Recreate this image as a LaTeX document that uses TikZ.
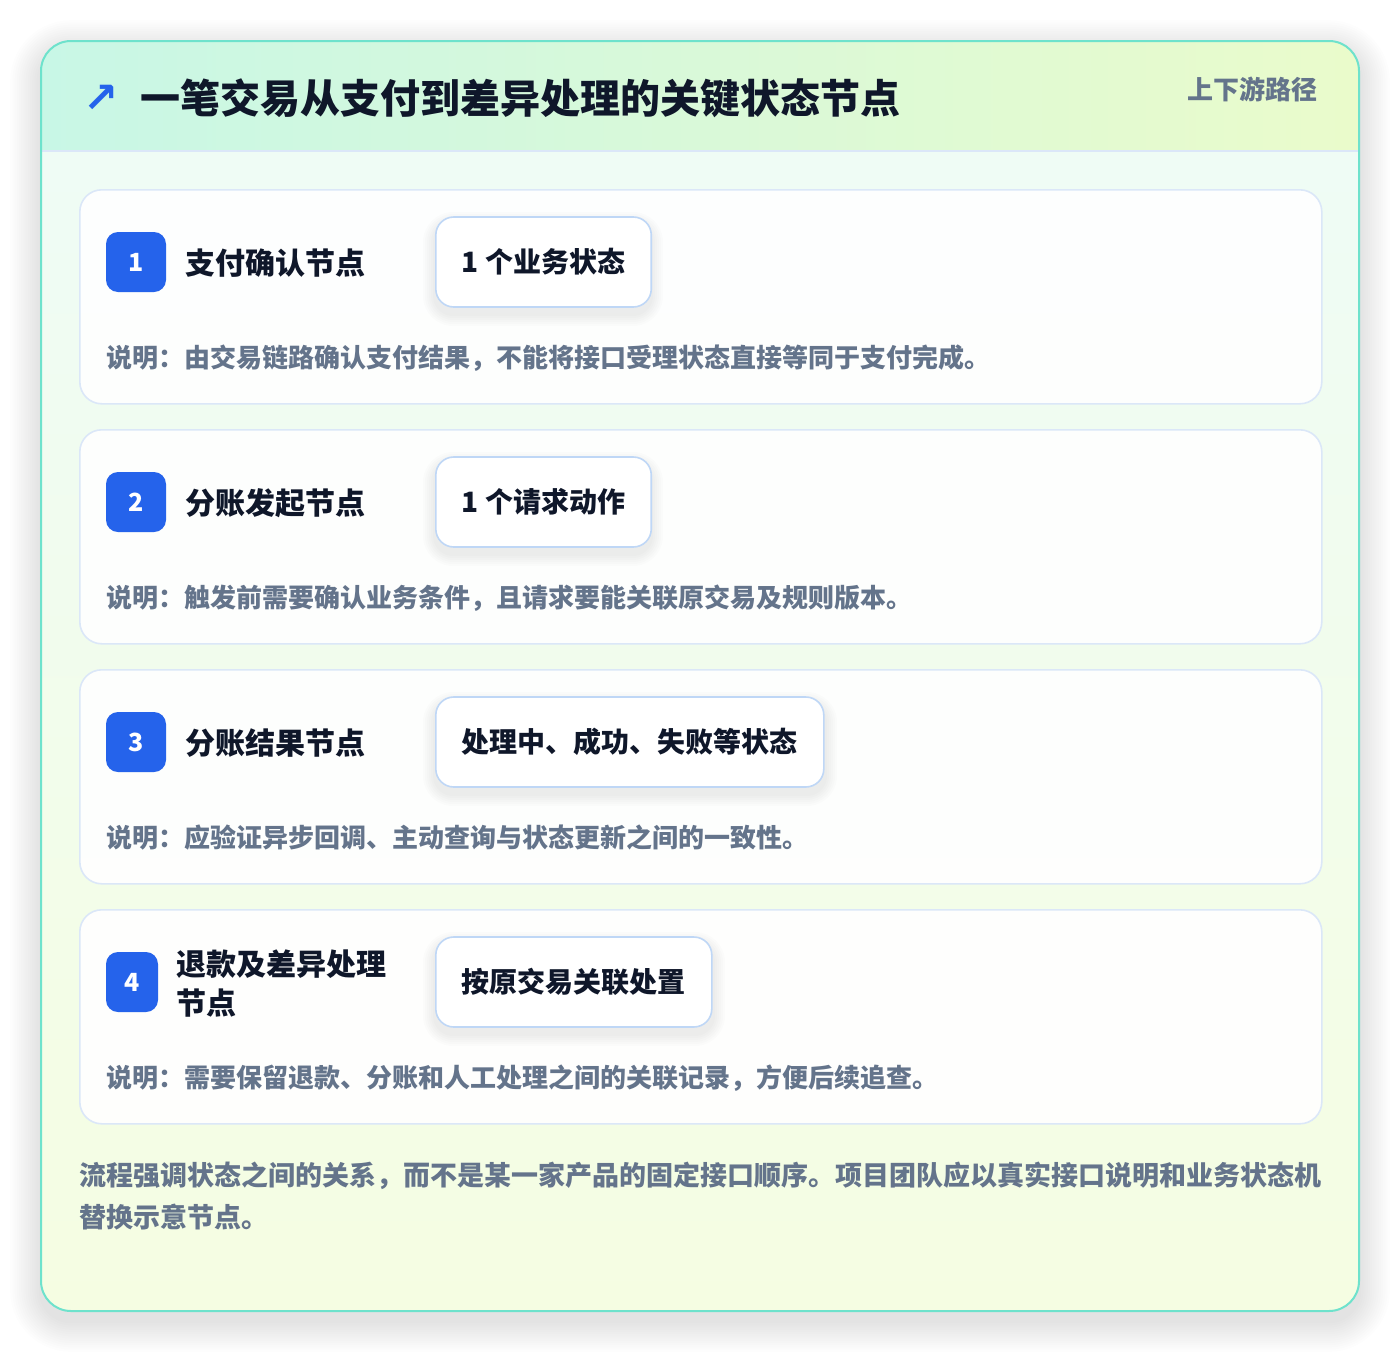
\documentclass[tikz,border=0pt]{standalone}
\usepackage{fontspec}
\setmainfont{Noto Sans CJK SC}
\newfontfamily\dejavu{DejaVu Sans}
\definecolor{panelborder}{HTML}{6EE2CC}
\definecolor{hdrL}{HTML}{C8F7E6}
\definecolor{hdrR}{HTML}{EAFBCB}
\definecolor{bodyT}{HTML}{EEFCF7}
\definecolor{bodyB}{HTML}{F5FDE2}
\definecolor{cardline}{HTML}{DBE7F8}
\definecolor{pillline}{HTML}{BFD7F6}
\definecolor{badgeblue}{HTML}{2563EB}
\definecolor{darktext}{HTML}{0F172A}
\definecolor{graytext}{HTML}{64748B}
\tikzset{
  card/.style={draw=cardline, line width=1.6pt, fill=white, fill opacity=0.92, text opacity=1, rounded corners=22pt, minimum width=1242pt, minimum height=214pt, anchor=north west, inner sep=0pt},
  badge/.style={fill=badgeblue, rounded corners=12pt, minimum width=60pt, minimum height=60pt, inner sep=0pt, text=white, font=\fontsize{25}{28}\selectfont\bfseries},
  cardtitle/.style={anchor=base west, inner sep=0pt, text=darktext, font=\fontsize{30}{39}\selectfont\bfseries},
  pill/.style={draw=pillline, line width=1.6pt, fill=white, rounded corners=18pt, minimum height=90pt, inner xsep=26pt, inner ysep=0pt, anchor=west, text=darktext, font=\fontsize{28}{32}\selectfont\bfseries},
  desc/.style={anchor=base west, inner sep=0pt, text=graytext, font=\fontsize{26}{30}\selectfont\bfseries},
  foot/.style={anchor=base west, inner sep=0pt, text=graytext, font=\fontsize{27}{42}\selectfont\bfseries},
  shadowlayer/.style={fill=black, fill opacity=#1},
}
% soft shadow helper: #1 x0, #2 y0, #3 x1, #4 y1, #5 radius, #6 yshift, #7 steps, #8 step size, #9 opacity
\newcommand{\softshadow}[9]{%
  \foreach \k in {1,...,#7}{%
    \pgfmathsetmacro{\dd}{\k*#8}%
    \fill[shadowlayer=#9, rounded corners=#5+\dd]
      (#1-\dd,#2-\dd+#6) rectangle (#3+\dd,#4+\dd+#6);
  }%
}
\begin{document}
\begin{tikzpicture}[x=1pt,y=-1pt]
\useasboundingbox (0,0) rectangle (1400,1352);
\fill[white] (0,0) rectangle (1400,1352);
% panel shadow
\softshadow{41}{41}{1359}{1311}{30}{10}{14}{2.2}{0.009}
% panel
\path[rounded corners=30pt, top color=bodyT, bottom color=bodyB]
  (41,41) rectangle (1359,1311);
\begin{scope}
  \clip[rounded corners=30pt] (41,41) rectangle (1359,1311);
  \fill[left color=hdrL, right color=hdrR] (41,41) rectangle (1359,151);
\end{scope}
\coordinate (hl) at (41,151);
\coordinate (hr) at (1359,151);
\draw[cardline, line width=1.5pt] (hl) -- (hr);
\draw[panelborder, line width=2pt, rounded corners=30pt] (41,41) rectangle (1359,1311);

% header texts
\node[inner sep=0pt, text=badgeblue, font=\dejavu\bfseries\fontsize{42}{44}\selectfont] (icon) at (101,99) {↗};
\node[anchor=base west, inner sep=0pt, text=darktext, font=\fontsize{40}{44}\selectfont\bfseries] (title) at (140,113) {一笔交易从支付到差异处理的关键状态节点};
\node[anchor=base east, inner sep=0pt, text=graytext, font=\fontsize{26}{30}\selectfont\bfseries] (tag) at (1318,99) {上下游路径};

% cards
\node[card] (card1) at (79,189) {};
\node[card] (card2) at (79,429) {};
\node[card] (card3) at (79,669) {};
\node[card] (card4) at (79,909) {};

% pill shadows
\softshadow{435}{217}{651}{307}{18}{7}{6}{2}{0.012}
\softshadow{435}{457}{651}{547}{18}{7}{6}{2}{0.012}
\softshadow{435}{697}{825}{787}{18}{7}{6}{2}{0.012}
\softshadow{435}{937}{713}{1027}{18}{7}{6}{2}{0.012}

% card 1
\node[badge] (b1) at (136,262) {1};
\node[cardtitle] (t1) at (185,274) {支付确认节点};
\node[pill] (p1) at (435,262) {1 个业务状态};
\node[desc] (d1) at (106,367) {说明：由交易链路确认支付结果，不能将接口受理状态直接等同于支付完成。};

% card 2
\node[badge] (b2) at (136,502) {2};
\node[cardtitle] (t2) at (185,514) {分账发起节点};
\node[pill] (p2) at (435,502) {1 个请求动作};
\node[desc] (d2) at (106,607) {说明：触发前需要确认业务条件，且请求要能关联原交易及规则版本。};

% card 3
\node[badge] (b3) at (136,742) {3};
\node[cardtitle] (t3) at (185,754) {分账结果节点};
\node[pill] (p3) at (435,742) {处理中、成功、失败等状态};
\node[desc] (d3) at (106,847) {说明：应验证异步回调、主动查询与状态更新之间的一致性。};

% card 4
\node[badge, minimum width=52pt] (b4) at (132,982) {4};
\node[cardtitle] (t4a) at (176,975) {退款及差异处理};
\node[cardtitle] (t4b) at (176,1014) {节点};
\node[pill] (p4) at (435,982) {按原交易关联处置};
\node[desc] (d4) at (106,1087) {说明：需要保留退款、分账和人工处理之间的关联记录，方便后续追查。};

% footer
\node[foot] (f1) at (79,1185) {流程强调状态之间的关系，而不是某一家产品的固定接口顺序。项目团队应以真实接口说明和业务状态机};
\node[foot] (f2) at (79,1227) {替换示意节点。};
\end{tikzpicture}
\end{document}
